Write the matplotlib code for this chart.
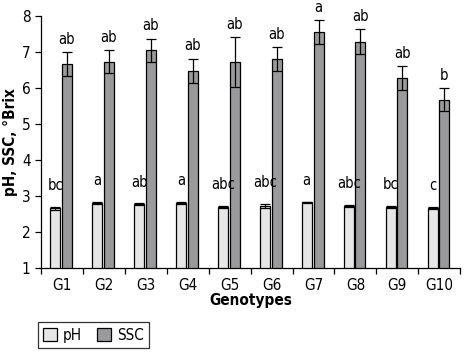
import numpy as np
import matplotlib.pyplot as plt

plt.rcParams['font.family'] = ['DejaVu Sans']
plt.rcParams['font.stretch'] = 'condensed'

genotipos = ['G1', 'G2', 'G3', 'G4', 'G5', 'G6', 'G7', 'G8', 'G9', 'G10']
ph = [2.65, 2.81, 2.77, 2.81, 2.69, 2.72, 2.82, 2.72, 2.69, 2.67]
ph_err = [0.03, 0.03, 0.02, 0.03, 0.03, 0.05, 0.02, 0.03, 0.03, 0.03]
ssc = [6.66, 6.72, 7.05, 6.47, 6.71, 6.80, 7.55, 7.28, 6.27, 5.67]
ssc_err = [0.33, 0.32, 0.32, 0.33, 0.70, 0.33, 0.33, 0.35, 0.33, 0.32]
letras_ph = ['bc', 'a', 'ab', 'a', 'abc', 'abc', 'a', 'abc', 'bc', 'c']
letras_ssc = ['ab', 'ab', 'ab', 'ab', 'ab', 'ab', 'a', 'ab', 'ab', 'b']

fig = plt.figure(figsize=(4.72, 3.52), dpi=100)
ax = fig.add_axes([0.087, 0.239, 0.888, 0.716])

x = np.arange(len(genotipos))
ancho = 0.24
b1 = ax.bar(x - 0.16, ph, ancho, color='#e6e6e6', edgecolor='black', linewidth=0.9,
            yerr=ph_err, capsize=3.5, error_kw=dict(elinewidth=0.9, capthick=0.9), label='pH')
b2 = ax.bar(x + 0.12, ssc, ancho, color='#9a9a9c', edgecolor='black', linewidth=0.9,
            yerr=ssc_err, capsize=3.5, error_kw=dict(elinewidth=0.9, capthick=0.9), label='SSC')

for i in range(len(genotipos)):
    ax.annotate(letras_ph[i], (x[i] - 0.16, ph[i] + ph_err[i]), xytext=(0, 10),
                textcoords='offset points', ha='center', va='bottom', fontsize=10.5,
                annotation_clip=False)
    ax.annotate(letras_ssc[i], (x[i] + 0.12, ssc[i] + ssc_err[i]), xytext=(0, 4),
                textcoords='offset points', ha='center', va='bottom', fontsize=10.5,
                annotation_clip=False)

ax.set_xlim(-0.5, len(genotipos) - 0.5)
ax.set_ylim(1, 8)
ax.set_yticks(range(1, 9))
ax.set_xticks(np.arange(-0.5, len(genotipos), 1.0))
ax.set_xticklabels([])
ax.set_xticks(x, minor=True)
ax.set_xticklabels(genotipos, minor=True)
ax.tick_params(axis='x', which='minor', length=0, pad=7, labelsize=11)
ax.tick_params(axis='x', which='major', direction='out', length=4, width=0.9)
ax.tick_params(axis='y', direction='out', length=4, width=0.9, labelsize=11)
ax.spines['top'].set_visible(False)
ax.spines['right'].set_visible(False)
ax.spines['left'].set_linewidth(0.9)
ax.spines['bottom'].set_linewidth(0.9)

ax.set_xlabel('Genotypes', fontweight='bold', fontsize=11, labelpad=0)
ax.set_ylabel('pH, SSC, °Brix', fontweight='bold', fontsize=11, labelpad=3)

leg = fig.legend(handles=[b1, b2], loc='lower left', bbox_to_anchor=(0.064, -0.01), ncol=2,
                 frameon=True, fancybox=False, fontsize=11, handlelength=0.9, handleheight=0.9,
                 handletextpad=0.4, columnspacing=1.0, borderpad=0.35)
leg.get_frame().set_edgecolor('black')
leg.get_frame().set_linewidth(0.9)

fig.savefig('out.png', dpi=100)
